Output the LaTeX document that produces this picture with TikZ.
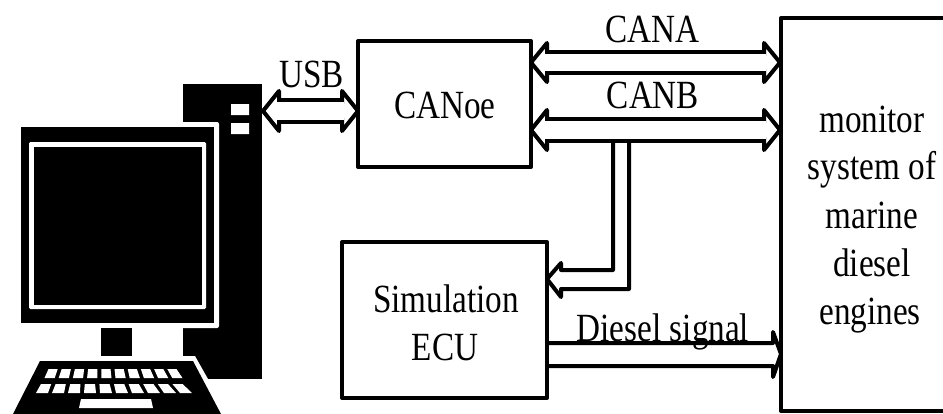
\documentclass[tikz,border=0pt]{standalone}
\usepackage{fontspec}
\setmainfont[FakeStretch=0.83]{Liberation Serif}
\tikzset{
  x=0.75pt,y=-0.75pt,
  bx/.style={draw=black,line width=3pt,line join=round,fill=white,inner sep=0pt,outer sep=0pt,anchor=north west},
  busline/.style={draw=black,line width=3pt,line join=round,line cap=round},
  lbl/.style={font=\fontsize{30}{33}\selectfont,inner sep=0pt,anchor=base},
  solid/.style={fill=black,draw=none},
  hole/.style={fill=white,draw=none}
}
\newcommand{\dblbus}[5]{% x left, x right, y top, y bottom, head overshoot
  \draw[busline] (#1+16,#3) -- (#2-16,#3) (#1+16,#4) -- (#2-16,#4);
  \draw[busline] (#1+16,#3-#5) -- (#1,#3/2+#4/2) -- (#1+16,#4+#5) -- cycle;
  \fill[hole] (#1+16,#3+2) -- (#1+5,#3/2+#4/2) -- (#1+16,#4-2) -- cycle;
  \draw[busline] (#2-16,#3-#5) -- (#2,#3/2+#4/2) -- (#2-16,#4+#5) -- cycle;
  \fill[hole] (#2-16,#3+2) -- (#2-5,#3/2+#4/2) -- (#2-16,#4-2) -- cycle;
  \fill[hole] (#1+14,#3+2) rectangle (#2-14,#4-2);
}
\begin{document}
\begin{tikzpicture}
\useasboundingbox (0,0) rectangle (943,414);
\clip (0,0) rectangle (943,414);
% computer
\fill[solid] (183,84) rectangle (262,379);
\fill[hole] (231,104) rectangle (249,115) (231,123) rectangle (249,134);
\fill[hole,rounded corners=1.5pt] (16,122) rectangle (219,328);
\fill[hole] (100,328) rectangle (183,360);
\fill[hole] (30,356) -- (195,356) -- (208,379) -- (235,414) -- (0,414) -- cycle;
\fill[solid] (21,127) rectangle (214,323);
\fill[hole,rounded corners=1pt] (29,142) rectangle (206,309);
\fill[solid] (34,147) rectangle (202,305);
\fill[solid] (101,328) rectangle (132,356);
\fill[solid] (40,361) -- (193,361) -- (221,414) -- (13,414) -- cycle;
\foreach \i in {0,...,9}{
  \pgfmathsetmacro{\aa}{48.5+13.2*\i}
  \pgfmathsetmacro{\bb}{\aa+9.2}
  \pgfmathsetmacro{\cc}{44.5+14.2*\i}
  \pgfmathsetmacro{\dd}{\cc+10.2}
  \fill[hole] (\aa,369) -- (\bb,369) -- (\dd,378) -- (\cc,378) -- cycle;
  \pgfmathsetmacro{\ee}{41+14.6*\i}
  \pgfmathsetmacro{\ff}{\ee+10.2}
  \pgfmathsetmacro{\gg}{36+16*\i}
  \pgfmathsetmacro{\hh}{\gg+12}
  \fill[hole] (\ee,384) -- (\ff,384) -- (\hh,393) -- (\gg,393) -- cycle;
}
\fill[hole] (81,399) -- (151,399) -- (153,408) -- (79,408) -- cycle;
% boxes
\node[bx,minimum width=129.75pt,minimum height=94.5pt] (canoe) at (358,41) {};
\node[bx,minimum width=153.75pt,minimum height=117pt] (ecu) at (342,242) {};
\node[bx,minimum width=135pt,minimum height=294.75pt] (mon) at (781,18) {};
\node[lbl] (tcanoe) at (445,118) {CANoe};
\node[lbl] (tecu1) at (446,312) {Simulation};
\node[lbl] (tecu2) at (445,360) {ECU};
\node[lbl] (tm1) at (872,132) {monitor};
\node[lbl] (tm2) at (872,179) {system of};
\node[lbl] (tm3) at (872,228) {marine};
\node[lbl] (tm4) at (872,276) {diesel};
\node[lbl] (tm5) at (870,324) {engines};
\node[lbl] (tusb) at (311.5,87) {USB};
\node[lbl] (tcana) at (652.5,42) {CANA};
\node[lbl] (tcanb) at (653,108) {CANB};
\node[lbl] (tsig) at (663,341) {Diesel signal};
% buses
\dblbus{263}{358}{100}{122}{9}
\dblbus{531}{780}{52}{73}{9}
\dblbus{531}{780}{119}{141}{9}
\coordinate (vl) at (613,141);
\coordinate (vr) at (629,141);
\coordinate (hl) at (561,270);
\coordinate (hr) at (561,289);
\coordinate (tip) at (547,279);
\draw[busline] (vl) -- (613,270) -- (hl) -- (561,263) -- (tip) -- (561,297) -- (hr) -- (629,289) -- (vr);
\coordinate (sl) at (547,343);
\coordinate (sr) at (547,366);
\draw[busline] (sl) -- (773,343) -- (773,332) -- (781,354) -- (773,377) -- (773,366) -- (sr);
\end{tikzpicture}
\end{document}
